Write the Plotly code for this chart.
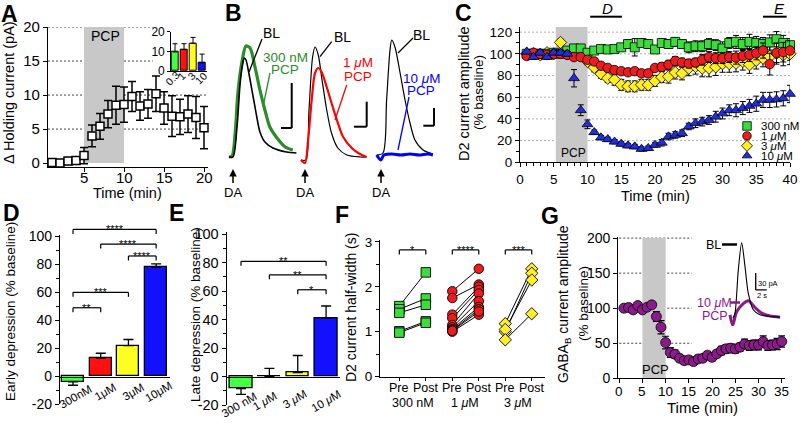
import plotly.graph_objects as go

W, H = 800, 425
FONT = "Arial, Liberation Sans, Helvetica, sans-serif"


def X(p):
    return p / W


def Y(p):
    return 1 - p / H


# ======================= DATA =======================
# ---- Panel A : change in holding current ----
a_time = list(range(1, 21))
a_holding = [0.1, 0.0, 0.3, 0.4, 1.1, 4.0, 5.4, 7.2, 8.5, 8.6, 9.8, 8.4, 8.7, 10.2, 8.1, 6.9, 6.8, 7.2, 6.7, 5.2]
a_holding_err = [0.3, 0.2, 0.5, 0.5, 1.2, 1.6, 1.9, 2.0, 2.8, 2.6, 2.2, 2.1, 2.1, 2.6, 2.4, 3.0, 2.6, 2.7, 3.1, 3.1]
a_xticks = [5, 10, 15, 20]
a_inset_labels = ["0.3", "1", "3", "10"]
a_inset_vals = [9.7, 10.9, 14.1, 4.2]
a_inset_err = [4.2, 3.0, 3.0, 4.4]
a_pcp = [5, 10]

# ---- Panel B : example D2 currents (time s, current pA) ----
b1_t_bl = [0.1, 0.55, 1.0, 1.35, 1.65, 1.8, 2.0, 2.25, 2.8, 3.2, 3.55, 4.1, 5.0, 6.5, 7.6]
b1_i_bl = [-2, -2, 28, 72, 92, 97, 95, 85, 58, 38, 23, 13, 7, 3, 2]
b1_t_pcp = [0.1, 0.45, 0.8, 1.1, 1.55, 2.0, 2.45, 3.0, 3.55, 4.1, 4.65, 5.45, 6.35, 7.2]
b1_i_pcp = [-2, -1, 22, 62, 93, 109, 107, 88, 65, 45, 28, 17, 8, 5]

b2_t_bl = [0.1, 0.65, 1.0, 1.4, 1.67, 2.03, 2.4, 2.97, 3.5, 4.2, 5.2, 6.7, 7.4]
b2_i_bl = [1, 1, 51, 104, 114, 106, 84, 51, 28, 13, 6, 4, 4]
b2_t_pcp = [0.1, 0.55, 0.9, 1.3, 1.67, 2.03, 2.4, 2.97, 3.5, 4.1, 4.8, 5.75, 6.65, 7.4]
b2_i_pcp = [1, -2, 21, 61, 88, 93, 89, 74, 58, 41, 24, 13, 7, 4]

b3_t_bl = [0.3, 1.0, 1.4, 1.78, 1.97, 2.33, 2.9, 3.45, 4.0, 4.55, 5.45, 6.55]
b3_i_bl = [0, 2, 55, 105, 115, 108, 82, 55, 32, 15, 5, 1]
b3_t_pcp = [0.3, 0.75, 1.1, 2.0, 3.0, 4.0, 5.0, 6.0, 6.55]
b3_i_pcp = [0, -5, 0, 1, 0, 1, 0, 1, 0]

# ---- Panel C : D2 current amplitude (% baseline) ----
c_time = list(range(1, 41))
c_300nM = [100, 100, 100, 100, 101, 100, 103, 105, 105, 101, 103, 104.5, 104, 104.5, 106, 109, 106, 110, 109, 104,
           110, 109, 111, 109, 106, 107, 107, 109, 108, 105, 110, 111, 109, 111, 110, 109, 110.5, 113.5, 110, 108]
c_300nM_err = [2, 2, 2, 2, 2, 2, 2, 3, 3, 2, 2, 2, 2, 2, 3, 4, 8, 4, 4, 3,
               4, 4, 4, 4, 5, 5, 5, 5, 5, 6, 5, 6, 6, 7, 6, 6, 7, 7, 7, 6]
c_1uM = [98, 101, 100, 99, 100, 100, 99, 97, 97, 94.5, 93, 89, 87, 85, 84, 83, 84, 82, 82, 87,
         88, 90, 93.5, 92, 91, 92, 94.5, 97, 96, 96, 97, 96.5, 98, 99, 100.5, 103, 90.5, 101, 101.5, 103]
c_1uM_err = [2, 2, 2, 2, 2, 2, 2, 2, 2, 2, 3, 3, 3, 3, 3, 3, 3, 3, 3, 3,
             4, 4, 4, 4, 4, 4, 5, 5, 5, 5, 5, 6, 6, 6, 6, 7, 10, 9, 9, 9]
c_3uM = [100, 100, 99, 101, 100, 110.5, 100, 99, 99, 93, 87.4, 81.5, 77.5, 76, 71.4, 70, 70, 71.4, 71.4, 75,
         78.5, 79, 82.8, 82, 86.8, 88.3, 86.8, 86.8, 88, 91, 91, 91.4, 93, 90, 94, 96, 97.5, 100.5, 99, 100]
c_3uM_err = [2, 2, 2, 2, 2, 3, 2, 2, 2, 3, 4, 4, 4, 5, 5, 5, 5, 5, 5, 5,
             5, 6, 6, 6, 7, 7, 8, 8, 8, 8, 8, 8, 8, 8, 8, 8, 9, 10, 10, 10]
c_10uM = [102, 97, 101, 97, 101, 101, 100, 77.5, 48, 35, 27.7, 22.8, 21.2, 19, 17, 15.4, 14.5, 12.3, 13, 16,
          18, 23.7, 25.2, 26.8, 33, 36, 37.5, 39, 42, 45, 48, 48, 50, 52, 54, 57.5, 57.5, 58, 59, 63]
c_10uM_err = [2, 2, 2, 2, 2, 2, 2, 8, 5, 4, 2, 2, 2, 2, 2, 2, 2, 2, 2, 2,
              3, 3, 3, 3, 3, 4, 4, 4, 5, 5, 5, 6, 6, 6, 7, 7, 7, 7, 7, 8]
c_pcp = [5.3, 10]
c_window_D = [10.4, 15.1]
c_window_E = [36, 39.5]
c_legend = ["300 nM", "1 <i>μ</i>M", "3 <i>μ</i>M", "10 <i>μ</i>M"]

# ---- Panel D : early depression ----
d_labels = ["300nM", "1μM", "3μM", "10μM"]
d_vals = [-4, 13, 22, 78]
d_err = [2.4, 3.5, 4.3, 2.4]
d_brackets = [(0, 1, 49, "**"), (0, 2, 60, "***"), (2, 3, 86, "****"), (1, 3, 94.5, "****"), (0, 3, 105, "****")]

# ---- Panel E : late depression ----
e_labels = ["300 nM", "1 <i>μ</i>M", "3 <i>μ</i>M", "10 <i>μ</i>M"]
e_vals = [-8.5, 0, 2.8, 41]
e_err = [4.0, 5.8, 12, 8.6]
e_brackets = [(0, 3, 81, "**"), (1, 3, 71.5, "**"), (2, 3, 61, "*")]

# ---- Panel F : half-width pre/post ----
f_tick_text = ["Pre", "Post", "Pre", "Post", "Pre", "Post"]
f_groups = ["300 nM", "1 <i>μ</i>M", "3 <i>μ</i>M"]
f_300_pre = [1.57, 1.50, 1.42, 1.01, 0.98]
f_300_post = [2.32, 1.74, 1.60, 1.23, 1.20]
f_1_pre = [1.90, 1.75, 1.38, 1.30, 1.15, 1.10, 1.06, 1.03, 1.00, 1.02]
f_1_post = [2.40, 2.05, 2.00, 1.93, 1.85, 1.68, 1.55, 1.50, 1.38, 1.45]
f_3_pre = [1.18, 1.00, 1.05, 0.82]
f_3_post = [2.40, 2.30, 2.15, 1.40]
f_brackets = [(0, 1, 2.82, "*"), (2, 3, 2.82, "****"), (4, 5, 2.82, "***")]

# ---- Panel G : GABA-B current amplitude ----
g_time = list(range(1, 36))
g_xticks = [0, 5, 10, 15, 20, 25, 30, 35]
g_amp = [100, 101, 97.6, 103.8, 97.6, 101.4, 104.8, 88, 72.9, 51, 36.7, 34.3, 28.6, 25.2, 26.2, 23.8, 27.6, 28.6,
         33, 30, 34.8, 39.5, 42, 42.9, 42, 44.3, 49, 46.7, 47.6, 47.6, 52.4, 46.7, 47.6, 49, 52.4]
g_amp_err = [3, 3, 3, 3, 3, 3, 3, 7, 9.5, 9, 7, 6, 5, 5, 5, 5, 5, 5, 5, 5,
             5, 6, 6, 6, 6, 6, 7, 7, 7, 7, 8, 7, 7, 8, 8]
g_pcp = [5, 10]
g_in_t_bl = [6.0, 6.36, 6.96, 7.58, 8.18, 8.78, 9.69, 10.91, 14.55]
g_in_i_bl = [0, 9, 85, 133, 91, 44, 15, 6, 2]
g_in_t_pcp = [5.45, 5.95, 6.67, 7.87, 8.78, 10.0, 11.22, 12.73, 14.55]
g_in_i_pcp = [6, -12, 12, 26, 31, 19, 9, 4, 2]
g_scale_pA = 30
g_scale_s = 2

# ======================= STYLE =======================
GREEN = "#3ddc3d"
RED = "#ee1c1c"
YELLOW = "#ffee22"
BLUE = "#1f2fe0"
PURPLE = "#8b1a8b"
BAR_COLORS = ["#44ff44", "#ff1111", "#ffff22", "#1111ff"]
TRACE_GREEN = "#2b8c2b"

fig = go.Figure()


def add(tr):
    fig.add_trace(tr)


# ---------- Panel A ----------
add(go.Scatter(x=a_time, y=a_holding, xaxis="x", yaxis="y", mode="markers",
               marker=dict(symbol="square", size=8, color="white", line=dict(color="black", width=1.5)),
               error_y=dict(type="data", array=a_holding_err, color="black", thickness=1.5, width=4),
               cliponaxis=False, showlegend=False))
add(go.Bar(x=[0, 1, 2, 3], y=a_inset_vals, xaxis="x2", yaxis="y2", width=0.74,
           marker=dict(color=BAR_COLORS, line=dict(color="black", width=1)),
           error_y=dict(type="data", symmetric=False, array=a_inset_err, arrayminus=[0] * 4,
                        color="black", thickness=1, width=2.5),
           showlegend=False))

# ---------- Panel B ----------
for (tb, ib, tp, ip, col, wp, xa, ya) in [
    (b1_t_bl, b1_i_bl, b1_t_pcp, b1_i_pcp, TRACE_GREEN, 3.2, "x3", "y3"),
    (b2_t_bl, b2_i_bl, b2_t_pcp, b2_i_pcp, "#ff0000", 2.2, "x4", "y4"),
    (b3_t_bl, b3_i_bl, b3_t_pcp, b3_i_pcp, "#0000ff", 3.0, "x5", "y5"),
]:
    if col == TRACE_GREEN:
        add(go.Scatter(x=tp, y=ip, xaxis=xa, yaxis=ya, mode="lines",
                       line=dict(color=col, width=wp, shape="spline", smoothing=0.8),
                       showlegend=False, hoverinfo="skip"))
        add(go.Scatter(x=tb, y=ib, xaxis=xa, yaxis=ya, mode="lines",
                       line=dict(color="black", width=1.6, shape="spline", smoothing=0.8),
                       showlegend=False, hoverinfo="skip"))
    else:
        add(go.Scatter(x=tb, y=ib, xaxis=xa, yaxis=ya, mode="lines",
                       line=dict(color="black", width=1.2, shape="spline", smoothing=0.8),
                       showlegend=False, hoverinfo="skip"))
        add(go.Scatter(x=tp, y=ip, xaxis=xa, yaxis=ya, mode="lines",
                       line=dict(color=col, width=wp, shape="spline", smoothing=0.8),
                       showlegend=False, hoverinfo="skip"))

# ---------- Panel C ----------
c_series = [
    (c_3uM, c_3uM_err, YELLOW, "diamond", 9.5),
    (c_300nM, c_300nM_err, GREEN, "square", 9),
    (c_1uM, c_1uM_err, RED, "circle", 9.5),
    (c_10uM, c_10uM_err, BLUE, "triangle-up", 9.5),
]
for vals, err, col, sym, sz in c_series:
    add(go.Scatter(x=c_time, y=vals, xaxis="x6", yaxis="y6", mode="markers",
                   marker=dict(symbol=sym, size=sz, color=col, line=dict(color="black", width=0.8)),
                   error_y=dict(type="data", array=err, color="black", thickness=1, width=3),
                   cliponaxis=False, showlegend=False))
# legend keys
for k, (col, sym) in enumerate([(GREEN, "square"), (RED, "circle"), (YELLOW, "diamond"), (BLUE, "triangle-up")]):
    add(go.Scatter(x=[0], y=[k], xaxis="x12", yaxis="y12", mode="markers",
                   marker=dict(symbol=sym, size=8.5, color=col, line=dict(color="black", width=0.8)),
                   cliponaxis=False, showlegend=False))


# ---------- Panel D / E bars ----------
def up_down(vals, err):
    up = [e if v >= 0 else 0 for v, e in zip(vals, err)]
    dn = [e if v < 0 else 0 for v, e in zip(vals, err)]
    return up, dn


for vals, err, xa, ya in [(d_vals, d_err, "x7", "y7"), (e_vals, e_err, "x8", "y8")]:
    up, dn = up_down(vals, err)
    add(go.Bar(x=[0, 1, 2, 3], y=vals, xaxis=xa, yaxis=ya, width=0.79,
               marker=dict(color=BAR_COLORS, line=dict(color="black", width=1.3)),
               error_y=dict(type="data", symmetric=False, array=up, arrayminus=dn,
                            color="black", thickness=1.3, width=5),
               showlegend=False))

# ---------- Panel F ----------
for pre, post, col, sym, x0 in [(f_300_pre, f_300_post, GREEN, "square", 0),
                                (f_1_pre, f_1_post, RED, "circle", 2),
                                (f_3_pre, f_3_post, YELLOW, "diamond", 4)]:
    xs, ys = [], []
    for a, b in zip(pre, post):
        xs += [x0, x0 + 1, None]
        ys += [a, b, None]
    add(go.Scatter(x=xs, y=ys, xaxis="x9", yaxis="y9", mode="lines+markers",
                   line=dict(color="black", width=1),
                   marker=dict(symbol=sym, size=9.5, color=col, line=dict(color="black", width=0.9)),
                   cliponaxis=False, showlegend=False))

# ---------- Panel G ----------
add(go.Scatter(x=g_time, y=g_amp, xaxis="x10", yaxis="y10", mode="markers",
               marker=dict(symbol="circle", size=10, color=PURPLE, line=dict(color="black", width=0.8)),
               error_y=dict(type="data", array=g_amp_err, color="black", thickness=1.2, width=3.5),
               cliponaxis=False, showlegend=False))
add(go.Scatter(x=g_in_t_pcp, y=g_in_i_pcp, xaxis="x11", yaxis="y11", mode="lines",
               line=dict(color=PURPLE, width=3, shape="spline", smoothing=0.8),
               showlegend=False, hoverinfo="skip"))
add(go.Scatter(x=g_in_t_bl, y=g_in_i_bl, xaxis="x11", yaxis="y11", mode="lines",
               line=dict(color="black", width=1.1, shape="spline", smoothing=0.8),
               showlegend=False, hoverinfo="skip"))


# ======================= AXES =======================
def xd(a, b):
    return [X(a), X(b)]


def yd(top, bot):
    return [Y(bot), Y(top)]


def axis(domain, rng, size=13, **kw):
    d = dict(domain=domain, range=rng, showline=True, linecolor="black", linewidth=1.3,
             ticks="outside", ticklen=4, tickwidth=1.3, tickcolor="black",
             showgrid=False, zeroline=False, fixedrange=True, automargin=False,
             tickfont=dict(family=FONT, size=size, color="black"))
    d.update(kw)
    return d


def hidden(domain, rng, anchor):
    return dict(domain=domain, range=rng, visible=False, fixedrange=True, anchor=anchor, automargin=False)


def zero_xaxis(domain, rng, pos):
    return dict(domain=domain, range=rng, anchor="free", position=pos,
                showline=True, linecolor="black", linewidth=1.3, ticks="", showticklabels=False,
                showgrid=False, zeroline=False, fixedrange=True, automargin=False)


MINOR = dict(ticks="outside", ticklen=2.5, tickwidth=1, tickcolor="black")

layout_axes = dict(
    xaxis=axis(xd(48, 208), [0.5, 20.5], 15, anchor="y", tickvals=a_xticks, showticklabels=False),
    yaxis=axis(yd(27, 166.5), [-0.5, 20], 15, anchor="x", tickvals=[0, 5, 10, 15, 20]),
    xaxis2=axis(xd(170.7, 207), [-0.48, 3.55], 11, anchor="y2", tickvals=[0, 1, 2, 3],
                showticklabels=False, ticks="", linewidth=1),
    yaxis2=axis(yd(31.7, 71), [0, 20], 12, anchor="x2", tickvals=[0, 10, 20], ticklen=2.5, linewidth=1),
    xaxis3=hidden(xd(228, 300), [0, 8], "y3"),
    yaxis3=hidden(yd(35, 165), [-10, 120], "x3"),
    xaxis4=hidden(xd(300, 372), [0, 8], "y4"),
    yaxis4=hidden(yd(35, 165), [-4, 126], "x4"),
    xaxis5=hidden(xd(374, 446), [0, 8], "y5"),
    yaxis5=hidden(yd(35, 165), [-10, 120], "x5"),
    xaxis6=axis(xd(520, 790), [0, 40], 13.5, anchor="y6", tick0=0, dtick=5,
                minor=dict(dtick=1, **MINOR)),
    yaxis6=axis(yd(26.7, 162.3), [0, 125], 13.5, anchor="x6", tick0=0, dtick=20,
                minor=dict(dtick=10, **MINOR)),
    xaxis7=zero_xaxis(xd(60, 170), [-0.47, 3.5], Y(376.7)),
    yaxis7=axis(yd(235, 404.3), [-20, 101], 14, anchor="x7",
                tickvals=[-20, 0, 20, 40, 60, 80, 100], ticktext=["-20", "0", "20", "40", "60", "80", "100"],
                minor=dict(tickvals=[-10, 10, 30, 50, 70, 90], **MINOR)),
    xaxis8=zero_xaxis(xd(226.7, 340), [-0.505, 3.49], Y(376.7)),
    yaxis8=axis(yd(232.3, 405), [-20, 101.4], 14.5, anchor="x8",
                tickvals=[-20, 0, 20, 40, 60, 80, 100], ticktext=["-20", "0", "20", "40", "60", "80", "100"],
                minor=dict(tickvals=[-10, 10, 30, 50, 70, 90], **MINOR)),
    xaxis9=axis(xd(380, 545), [-0.73, 5.5], 12.5, anchor="y9", tickvals=[0, 1, 2, 3, 4, 5],
                showticklabels=False, ticklen=3),
    yaxis9=axis(yd(240, 376.7), [0, 3.04], 13.5, anchor="x9", tickvals=[0, 1, 2, 3],
                minor=dict(tickvals=[0.5, 1.5, 2.5], **MINOR)),
    xaxis10=axis(xd(618.3, 785), [-0.2, 35.7], 13.5, anchor="y10", tickvals=g_xticks, showticklabels=False),
    yaxis10=axis(yd(236.7, 378.3), [0, 202], 14, anchor="x10", tickvals=[0, 50, 100, 150, 200]),
    xaxis11=hidden(xd(700, 785), [0, 15.45], "y11"),
    yaxis11=hidden(yd(235, 326.2), [-14, 146.9], "x11"),
    xaxis12=hidden(xd(740, 754), [-1, 1], "y12"),
    yaxis12=hidden(yd(121, 160.7), [3.5, -0.5], "x12"),
)

# ======================= SHAPES =======================
shapes = []


def line(x0, y0, x1, y1, xref="paper", yref="paper", color="black", width=1.3, dash=None, layer="above"):
    d = dict(type="line", x0=x0, y0=y0, x1=x1, y1=y1, xref=xref, yref=yref, layer=layer,
             line=dict(color=color, width=width))
    if dash:
        d["line"]["dash"] = dash
    shapes.append(d)


def rect(x0, x1, y0, y1, xref, yref, color="#c8c8c8"):
    shapes.append(dict(type="rect", x0=x0, x1=x1, y0=y0, y1=y1, xref=xref, yref=yref,
                       layer="below", fillcolor=color, line=dict(width=0)))


def pline(ax, ay, bx, by, color="black", width=1.3):
    line(X(ax), Y(ay), X(bx), Y(by), color=color, width=width)


# A gridlines & shading
for v, xmax in [(5, 20.5), (10, 20.5), (15, 13.6), (20, 13.6)]:
    line(0.5, v, xmax, v, "x", "y", color="#444444", width=1, dash="2px,2px", layer="below")
rect(a_pcp[0], a_pcp[1], 0, 20, "x", "y")

# C gridlines & shading & windows
for v in [20, 40, 60, 80, 100, 120]:
    line(0, v, 40, v, "x6", "y6", color="#b0b0b0", width=1, dash="2px,2px", layer="below")
rect(c_pcp[0], c_pcp[1], 0, 125, "x6", "y6")
line(c_window_D[0], Y(16.7), c_window_D[1], Y(16.7), "x6", "paper", width=2)
line(c_window_E[0], Y(16.7), c_window_E[1], Y(16.7), "x6", "paper", width=2)

# G gridlines & shading
for v in [50, 100, 150, 200]:
    line(0, v, 15.6, v, "x10", "y10", color="#444444", width=1, dash="2px,2px", layer="below")
rect(g_pcp[0], g_pcp[1], 0, 200, "x10", "y10")

# B scale bars (data coords of each trace panel)
for xa, ya, tv, i0, i1, t0 in [("x3", "y3", 7.08, 27, 72, 5.89),
                               ("x4", "y4", 7.41, 34.3, 59.3, 6.0),
                               ("x5", "y5", 6.67, 29.3, 47, 5.48)]:
    line(tv, i0, tv, i1, xa, ya, width=2)
    line(t0, i0, tv, i0, xa, ya, width=2)

# B leader lines
pline(262, 39, 249, 72)
pline(270, 73, 263, 107, color=TRACE_GREEN)
pline(331.7, 41.7, 320, 56.7)
pline(346.7, 85, 335, 120, color="#ff0000")
pline(413, 38, 398, 53)
pline(409, 97, 398, 150, color="#0000ff")

# G inset label dashes and scale bar
pline(722, 244.5, 737, 244.5, width=2.5)
pline(730, 302.5, 740, 302.5, color=PURPLE, width=2.5)
g_sb_t0, g_sb_i0 = 10.13, 50
line(g_sb_t0, g_sb_i0, g_sb_t0, g_sb_i0 + g_scale_pA, "x11", "y11", width=1.3)
line(g_sb_t0, g_sb_i0, g_sb_t0 + g_scale_s, g_sb_i0, "x11", "y11", width=1.3)


# brackets
def ymap(v, top, bot, r0, r1):
    return Y(bot) + (v - r0) / (r1 - r0) * (Y(top) - Y(bot))


annotations = []


def text(t, x, y, size=13, color="black", angle=0, xanchor="center", yanchor="middle",
         xref="paper", yref="paper", bold=False):
    if bold:
        t = "<b>" + t + "</b>"
    annotations.append(dict(text=t, x=x, y=y, xref=xref, yref=yref, showarrow=False,
                            textangle=angle, xanchor=xanchor, yanchor=yanchor,
                            font=dict(family=FONT, size=size, color=color)))


def bracket(xref, x0, x1, yp, stars, drop_px=4.5):
    dy = drop_px / H
    line(x0, yp, x1, yp, xref, "paper", width=1.2)
    line(x0, yp, x0, yp - dy, xref, "paper", width=1.2)
    line(x1, yp, x1, yp - dy, xref, "paper", width=1.2)
    text(stars, (x0 + x1) / 2, yp, size=11, xref=xref)


for a, b, v, s in d_brackets:
    bracket("x7", a, b, ymap(v, 235, 404.3, -20, 101), s)
for a, b, v, s in e_brackets:
    bracket("x8", a, b, ymap(v, 232.3, 405, -20, 101.4), s)
for a, b, v, s in f_brackets:
    bracket("x9", a, b, ymap(v, 240, 376.7, 0, 3.04), s)

# ======================= TEXT =======================
for L, x, y in [("A", 9, 14), ("B", 233, 13), ("C", 463, 13), ("D", 11, 213),
                ("E", 176, 213), ("F", 342, 215), ("G", 550, 216)]:
    text(L, X(x), Y(y), size=23, bold=True)

# Panel A
text("Δ Holding current (pA)", X(9), Y(93), size=14.5, angle=-90)
for v in a_xticks:
    text(str(v), v, Y(177.5), size=15, xref="x")
text("Time (min)", X(127), Y(193), size=14.5)
text("PCP", X(105), Y(36), size=14)
for lab, x, y in zip(a_inset_labels, [172.5, 181.5, 191.5, 201], [78, 76.5, 76.5, 78]):
    text(lab, X(x), Y(y), size=10.5, angle=-45)

# Panel B labels
text("BL", X(271), Y(33), size=14)
text("300 nM", X(285), Y(57), size=13.5, color=TRACE_GREEN)
text("PCP", X(285), Y(70), size=13.5, color=TRACE_GREEN)
text("BL", X(342), Y(37), size=14)
text("1 <i>μ</i>M", X(358), Y(62), size=13.5, color="#ff0000")
text("PCP", X(358), Y(76), size=13.5, color="#ff0000")
text("BL", X(421), Y(35), size=14)
text("10 <i>μ</i>M", X(421), Y(78), size=13.5, color="#0000ff")
text("PCP", X(421), Y(90), size=13.5, color="#0000ff")
for ax_ in [233, 305, 381]:
    annotations.append(dict(text="DA", x=X(ax_), y=Y(169), xref="paper", yref="paper",
                            showarrow=True, ax=0, ay=23, arrowhead=2, arrowsize=1, arrowwidth=1.5,
                            arrowcolor="black", font=dict(family=FONT, size=13, color="black")))

# Panel C
text("D2 current amplitude", X(464), Y(93), size=14.5, angle=-90)
text("(% baseline)", X(479), Y(93), size=13.5, angle=-90)
text("Time (min)", X(655), Y(196), size=14.5)
text("PCP", X(573), Y(153), size=12)
text("<i>D</i>", X(607), Y(9), size=15)
text("<i>E</i>", X(779), Y(9), size=15)
for k, lab in enumerate(c_legend):
    text(lab, X(759), Y(126 + 9.9 * k), size=11.5, xanchor="left")

# Panel D
text("Early depression (% baseline)", X(10), Y(312), size=13.5, angle=-90)
for lab, x, y in zip(d_labels, [75, 105, 133, 158], [397, 392, 392, 392]):
    text(lab, X(x), Y(y), size=11.5, angle=-30)

# Panel E
text("Late depression (% baseline)", X(195), Y(315), size=13.5, angle=-90)
for lab, x, y in zip(e_labels, [239, 265, 295, 326], [405, 401, 399, 401]):
    text(lab, X(x), Y(y), size=11.5, angle=-30)

# Panel F
text("D2 current half-width (s)", X(351), Y(308), size=14, angle=-90)
for k, lab in enumerate(f_tick_text):
    text(lab, k, Y(387.5), size=12.5, xref="x9")
for lab, x in zip(f_groups, [412.7, 465, 518.3]):
    text(lab, X(x), Y(403), size=12.5)

# Panel G
text("GABA<sub>B</sub> current amplitude", X(564), Y(304), size=14, angle=-90)
text("(% baseline)", X(583), Y(304), size=13.5, angle=-90)
for v in g_xticks:
    text(str(v), v, Y(391.5), size=13.5, xref="x10")
text("Time (min)", X(702), Y(407), size=15)
text("PCP", X(655), Y(369), size=13)
text("BL", X(713.5), Y(245), size=12.5)
text("10 <i>μ</i>M", X(714), Y(302.5), size=12.5, color=PURPLE)
text("PCP", X(715), Y(316), size=12.5, color=PURPLE)
text("30 pA", X(767.5), Y(283), size=7.5)
text("2 s", X(761.5), Y(295), size=7.5)

fig.update_layout(
    template="none",
    width=W, height=H, margin=dict(l=0, r=0, t=0, b=0, pad=0), autosize=False,
    paper_bgcolor="white", plot_bgcolor="rgba(0,0,0,0)",
    font=dict(family=FONT, color="black"),
    showlegend=False, bargap=0,
    shapes=shapes, annotations=annotations,
    **layout_axes,
)

fig.write_html("out.html", config={"displayModeBar": False},
               post_script="document.body.style.margin='0';document.body.style.overflow='hidden';")
